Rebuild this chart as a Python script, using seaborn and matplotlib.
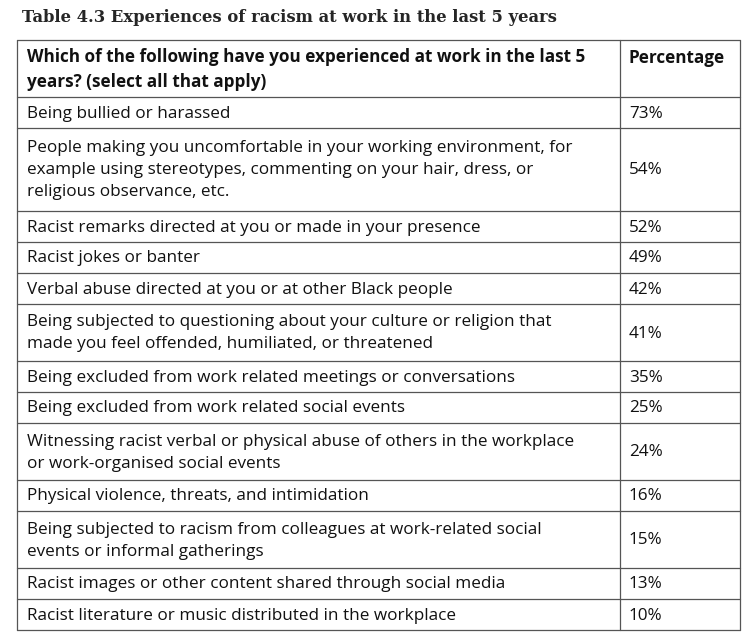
import matplotlib
matplotlib.use("Agg")
import matplotlib.pyplot as plt
import seaborn as sns

sns.set_theme(style="white", rc={"font.family": "Open Sans"})

title = "Table 4.3 Experiences of racism at work in the last 5 years"
header = ["Which of the following have you experienced at work in the last 5\nyears? (select all that apply)", "Percentage"]
experiences = [
    "Being bullied or harassed",
    "People making you uncomfortable in your working environment, for\nexample using stereotypes, commenting on your hair, dress, or\nreligious observance, etc.",
    "Racist remarks directed at you or made in your presence",
    "Racist jokes or banter",
    "Verbal abuse directed at you or at other Black people",
    "Being subjected to questioning about your culture or religion that\nmade you feel offended, humiliated, or threatened",
    "Being excluded from work related meetings or conversations",
    "Being excluded from work related social events",
    "Witnessing racist verbal or physical abuse of others in the workplace\nor work-organised social events",
    "Physical violence, threats, and intimidation",
    "Being subjected to racism from colleagues at work-related social\nevents or informal gatherings",
    "Racist images or other content shared through social media",
    "Racist literature or music distributed in the workplace",
]
percentages = [73, 54, 52, 49, 42, 41, 35, 25, 24, 16, 15, 13, 10]

fig = plt.figure(figsize=(7.5, 6.4), dpi=100, facecolor="white")
ax = fig.add_axes([0, 0, 1, 1])
ax.set_xlim(0, 750)
ax.set_ylim(640, 0)
ax.axis("off")

left, mid, right = 17, 620, 740
top = 40
fs = 12.3

ax.text(22, 18, title, fontsize=11.8, fontweight="bold", family="DejaVu Serif", va="center")

rows = [(header[0], header[1], True)] + [(e, f"{p}%", False) for e, p in zip(experiences, percentages)]
y = top
for txt, val, bold in rows:
    n = txt.count("\n") + 1
    h = 31 + (n - 1) * 26
    ax.plot([left, right], [y, y], color="#555555", lw=0.9)
    ax.text(left + 10, y + h / 2 + 1, txt, fontsize=fs, va="center", ha="left",
            fontweight="bold" if bold else "normal", linespacing=1.5, color="#111111")
    ax.text(mid + 9, y + (18 if bold else h / 2 + 1), val, fontsize=fs, va="center",
            ha="left", fontweight="bold" if bold else "normal", color="#111111")
    y += h
ax.plot([left, right], [y, y], color="#555555", lw=0.9)
for x in (left, mid, right):
    ax.plot([x, x], [top, y], color="#555555", lw=0.9)

fig.savefig("out.png", dpi=100, facecolor="white")
